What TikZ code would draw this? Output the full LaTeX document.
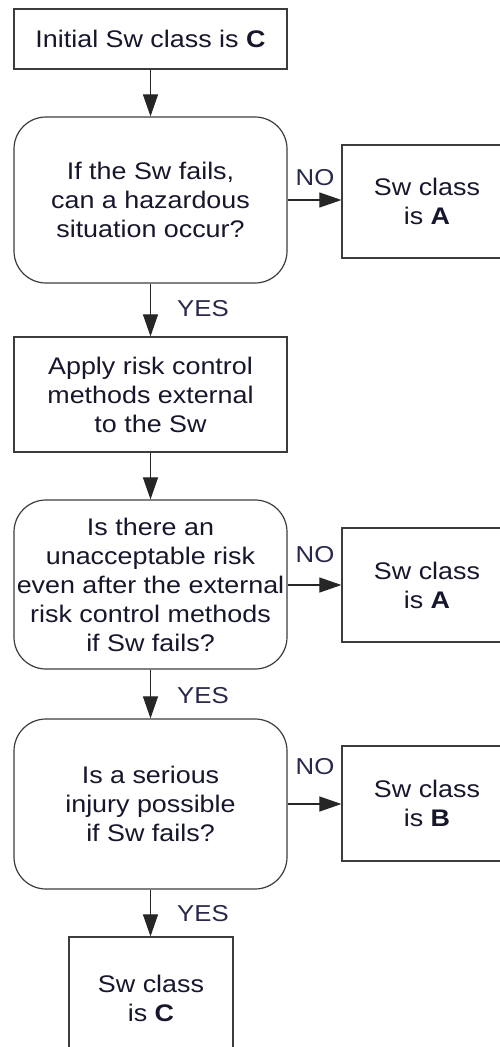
\documentclass[tikz,border=0pt]{standalone}
\usepackage{fontspec}
\setmainfont{Liberation Sans}[FakeStretch=1.12]
\usetikzlibrary{arrows.meta}
\definecolor{txt}{RGB}{22,22,44}
\definecolor{lbl}{RGB}{40,40,75}
\definecolor{edge}{RGB}{60,60,60}
\begin{document}
\begin{tikzpicture}[x=1pt,y=-1pt,
  every node/.style={font=\fontsize{24}{29}\selectfont, text=txt, align=center, inner sep=0pt},
  boxnode/.style={draw=edge, line width=1.2pt, rectangle},
  decnode/.style={draw=edge, line width=1.2pt, rectangle, rounded corners=32pt},
  flow/.style={line width=1.1pt, draw=black!85, -{Triangle[length=22pt,width=15pt]}},
  lab/.style={font=\fontsize{23}{27}\selectfont, text=lbl}
]
\useasboundingbox (0,0) rectangle (500,1047);
\clip (0,0) rectangle (500,1047);

\node[boxnode, minimum width=273pt, minimum height=60pt] (init) at (150.5,39) {Initial Sw class is \textbf{C}};
\node[decnode, minimum width=273pt, minimum height=166pt] (d1) at (150.5,200) {If the Sw fails,\\can a hazardous\\situation occur?};
\node[boxnode, minimum width=170pt, minimum height=113pt] (a1) at (427,201.5) {Sw class\\is \textbf{A}};
\node[boxnode, minimum width=273pt, minimum height=115pt] (apply) at (150.5,394.5) {Apply risk control\\methods external\\to the Sw};
\node[decnode, minimum width=273pt, minimum height=169pt] (d2) at (150.5,584.5) {Is there an\\unacceptable risk\\even after the external\\risk control methods\\if Sw fails?};
\node[boxnode, minimum width=170pt, minimum height=114pt] (a2) at (427,585) {Sw class\\is \textbf{A}};
\node[decnode, minimum width=273pt, minimum height=170pt] (d3) at (150.5,804) {Is a serious\\injury possible\\if Sw fails?};
\node[boxnode, minimum width=170pt, minimum height=115pt] (b) at (427,803.5) {Sw class\\is \textbf{B}};
\node[boxnode, minimum width=164pt, minimum height=122pt] (c) at (151,998) {Sw class\\is \textbf{C}};

\draw[flow] (init.south) -- (d1.north);
\draw[flow] (d1.east) -- (d1.east -| a1.west);
\draw[flow] (d1.south) -- (apply.north);
\draw[flow] (apply.south) -- (d2.north);
\draw[flow] (d2.east |- a2.west) -- (a2.west);
\draw[flow] (d2.south) -- (d3.north);
\draw[flow] (d3.east) -- (d3.east -| b.west);
\draw[flow] (d3.south) -- (d3.south |- c.north);

\node[lab] (no1) at (315,178) {NO};
\node[lab] (no2) at (315,555) {NO};
\node[lab] (no3) at (315,767) {NO};
\node[lab] (yes1) at (203,309) {YES};
\node[lab] (yes2) at (203,696) {YES};
\node[lab] (yes3) at (203,914) {YES};
\end{tikzpicture}
\end{document}
